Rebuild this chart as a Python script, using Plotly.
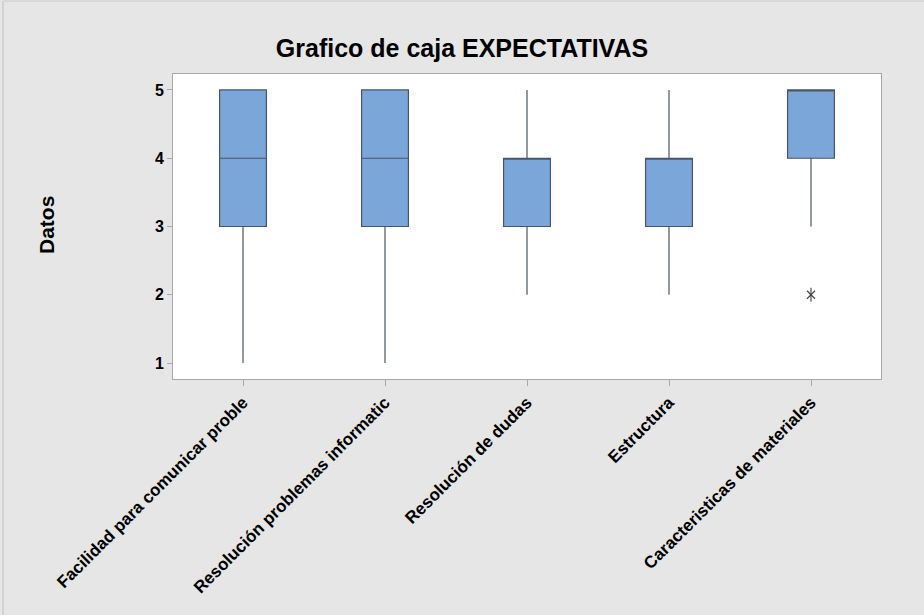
import plotly.graph_objects as go

# Box plot summary per item (Likert scale 1-5)
categorias = [
    "Facilidad para comunicar proble",
    "Resolución problemas informatic",
    "Resolución de dudas",
    "Estructura",
    "Caracteristicas de materiales",
]
q1 = [3, 3, 3, 3, 4]
mediana = [4, 4, 4, 4, 5]
q3 = [5, 5, 4, 4, 5]
bigote_inf = [1, 1, 2, 2, 3]
bigote_sup = [5, 5, 5, 5, 5]

# Atypical values
atipicos_cat = ["Caracteristicas de materiales"]
atipicos_val = [2]

y_ticks = [1, 2, 3, 4, 5]

FONT = "Liberation Sans, Arial, sans-serif"
BG = "#e6e6e6"

fig = go.Figure()

fig.add_trace(go.Box(
    x=categorias,
    q1=q1,
    median=mediana,
    q3=q3,
    lowerfence=bigote_inf,
    upperfence=bigote_sup,
    fillcolor="#7ba6d9",
    line=dict(color="#4a5563", width=1.2),
    whiskerwidth=0,
    width=0.33,
    boxpoints=False,
    hoverinfo="skip",
    showlegend=False,
))

# Asterisk marker for outliers: an X with a vertical stroke
for sym, sz in [("x-thin-open", 8), ("line-ns-open", 10)]:
    fig.add_trace(go.Scatter(
        x=atipicos_cat,
        y=atipicos_val,
        mode="markers",
        marker=dict(symbol=sym, size=sz, color="#404040",
                    line=dict(color="#404040", width=1.1)),
        showlegend=False,
        hoverinfo="skip",
    ))

fig.update_layout(
    width=924,
    height=615,
    paper_bgcolor=BG,
    plot_bgcolor="white",
    margin=dict(l=173, r=43, t=74, b=236),
    title=dict(
        text="<b>Grafico de caja EXPECTATIVAS</b>",
        x=0.5, xref="container", xanchor="center",
        y=1 - 48 / 615, yref="container", yanchor="middle",
        font=dict(family=FONT, size=25, color="black"),
    ),
    xaxis=dict(
        type="category",
        categoryorder="array",
        categoryarray=categorias,
        range=[-0.493, 4.493],
        showgrid=False,
        zeroline=False,
        showline=True,
        mirror=True,
        linecolor="#a8a8a8",
        linewidth=1,
        ticks="outside",
        ticklen=6,
        tickcolor="#a8a8a8",
        tickangle=-45,
        tickfont=dict(family=FONT, size=17, color="black", weight="bold"),
    ),
    yaxis=dict(
        range=[0.766, 5.234],
        tickvals=y_ticks,
        showgrid=False,
        zeroline=False,
        showline=True,
        mirror=True,
        linecolor="#a8a8a8",
        linewidth=1,
        ticks="outside",
        ticklen=5,
        tickcolor="#a8a8a8",
        tickfont=dict(family=FONT, size=16, color="black", weight="bold"),
    ),
    annotations=[dict(
        text="<b>Datos</b>",
        xref="paper", yref="paper",
        x=(47 - 173) / 708, y=(379 - 225) / 305,
        xanchor="center", yanchor="middle",
        textangle=-90, showarrow=False,
        font=dict(family=FONT, size=21, color="black"),
    )],
    shapes=[
        dict(type="line", xref="paper", yref="paper",
             x0=(3 - 173) / 708, x1=(3 - 173) / 708,
             y0=(379 - 615) / 305, y1=(379 - 1) / 305,
             line=dict(color="#d2d2d2", width=2)),
        dict(type="line", xref="paper", yref="paper",
             x0=(3 - 173) / 708, x1=(924 - 173) / 708,
             y0=(379 - 1) / 305, y1=(379 - 1) / 305,
             line=dict(color="#d8d8d8", width=2)),
    ],
)

fig.write_html("out.html")
